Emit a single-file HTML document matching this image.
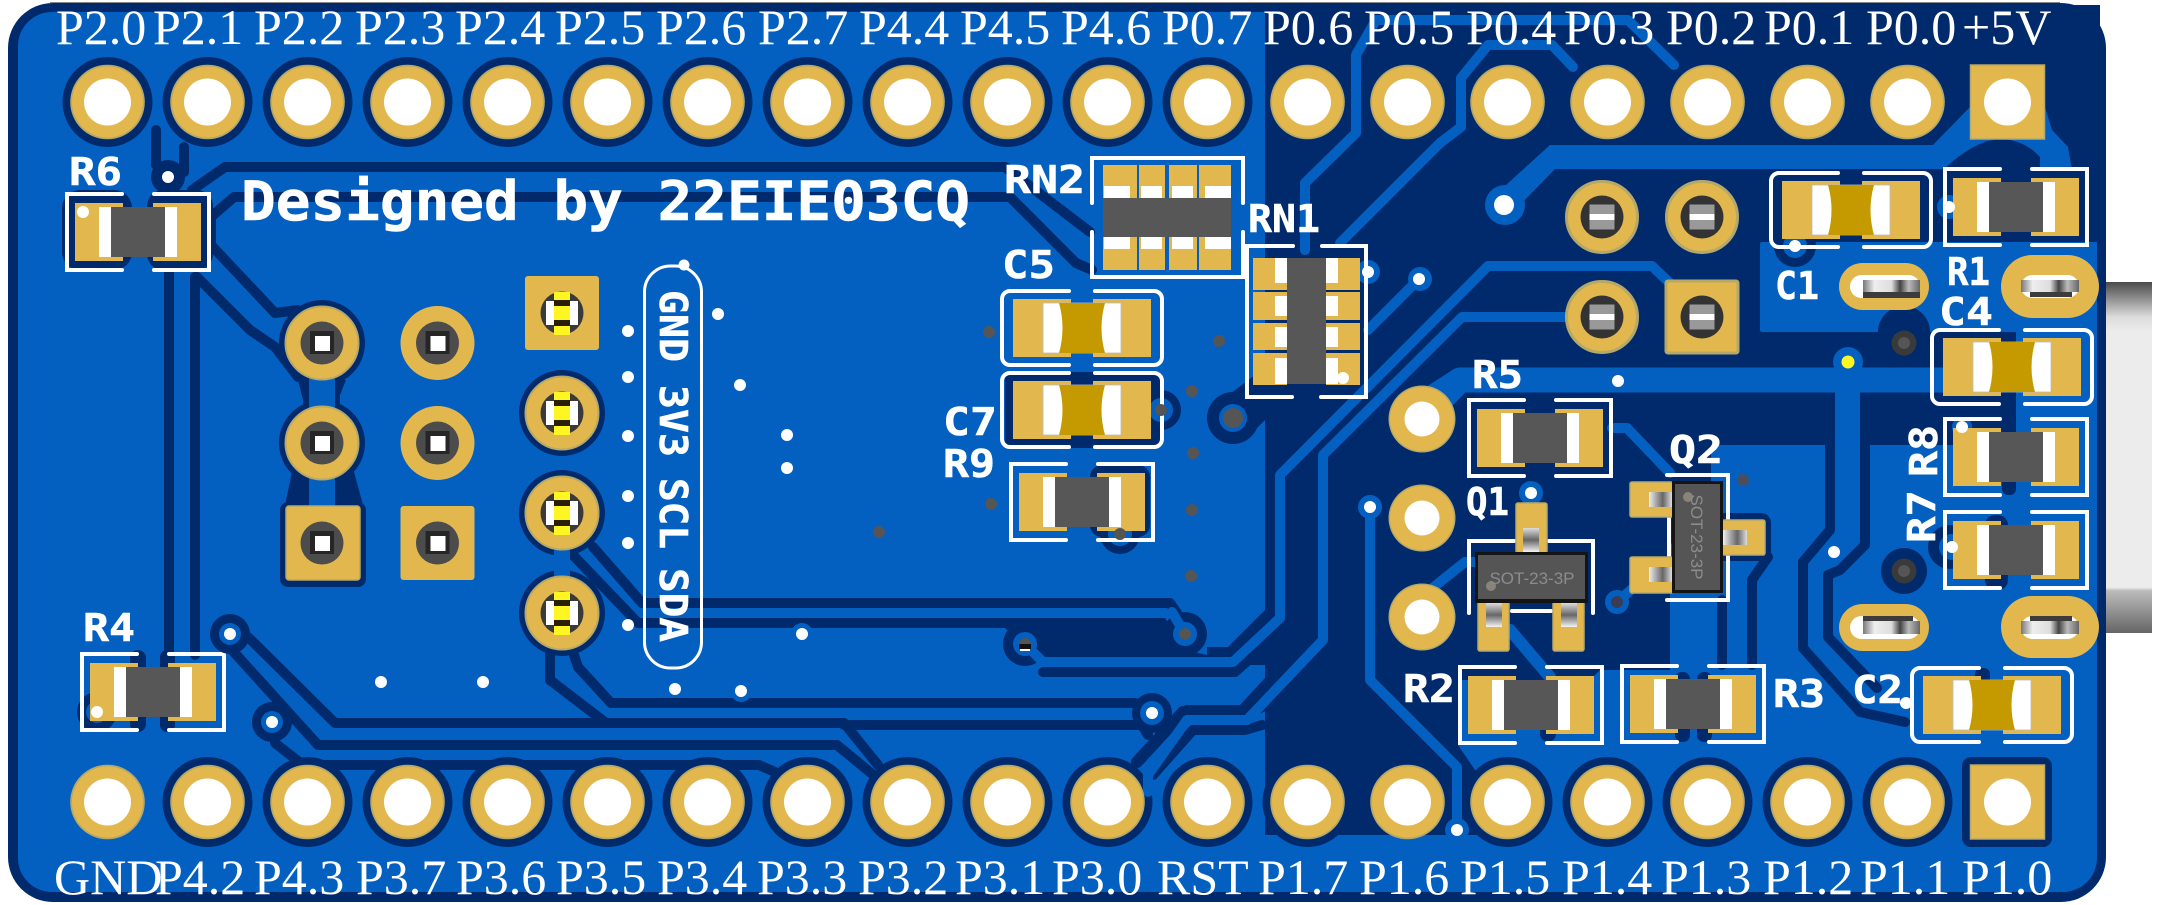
<!DOCTYPE html>
<html><head><meta charset="utf-8"><style>
html,body{margin:0;padding:0;background:#fff}
svg{display:block}
.t{font:50px "Liberation Serif",serif;fill:#fff}
.s{font:700 38px "DejaVu Sans Mono","Liberation Mono",monospace;fill:#fff;stroke:#fff;stroke-width:.6}
.m{font:17px "Liberation Sans",sans-serif;fill:#8c8c8c;text-anchor:middle}
.d{fill:none;stroke:#012a6c;stroke-width:10;stroke-linejoin:round;stroke-linecap:round}
.b{fill:none;stroke:#0360c0;stroke-width:10;stroke-linejoin:round;stroke-linecap:round}
</style></head><body>
<svg width="2160" height="905" viewBox="0 0 2160 905" xmlns="http://www.w3.org/2000/svg">
<defs>
<linearGradient id="usb" x1="0" y1="0" x2="0" y2="1"><stop offset="0" stop-color="#4a4a4a"/><stop offset=".1" stop-color="#dcdcdc"/><stop offset=".14" stop-color="#ececec"/><stop offset=".87" stop-color="#ececec"/><stop offset=".88" stop-color="#bbb"/><stop offset="1" stop-color="#666"/></linearGradient>
<linearGradient id="met" x1="0" y1="0" x2="1" y2="0"><stop offset="0" stop-color="#777"/><stop offset=".2" stop-color="#eee"/><stop offset=".5" stop-color="#ddd"/><stop offset=".65" stop-color="#444"/><stop offset=".8" stop-color="#bbb"/><stop offset="1" stop-color="#666"/></linearGradient>
<linearGradient id="pin" x1="0" y1="0" x2="0" y2="1"><stop offset="0" stop-color="#ddd"/><stop offset=".5" stop-color="#666"/><stop offset="1" stop-color="#f4f4f4"/></linearGradient>
<linearGradient id="pinh" x1="0" y1="0" x2="1" y2="0"><stop offset="0" stop-color="#eee"/><stop offset=".6" stop-color="#666"/><stop offset="1" stop-color="#ddd"/></linearGradient>
<g id="p"><circle r="37.3" fill="#b5a868"/><circle r="35.5" fill="#e2b84e"/><circle r="23.5" fill="#fff"/></g>
<g id="ps"><rect x="-37" y="-37" width="74" height="74" fill="#e2b84e" stroke="#b5a868" stroke-width="1.5"/><circle r="23.5" fill="#fff"/></g>
<g id="sp"><circle r="33.5" fill="#b5a868"/><circle r="32" fill="#e2b84e"/><circle r="17.5" fill="#fff"/></g>
<g id="h1"><circle r="21.5" fill="#4c4c4c"/><rect x="-12" y="-12" width="24" height="23" fill="#262626"/><rect x="-7" y="-7" width="15" height="15" fill="#fff"/></g>
<g id="h3"><circle r="21.5" fill="#3a3a3a"/><rect x="-16" y="-12" width="32" height="24" fill="#fff"/><rect x="-8" y="-21" width="16" height="43" fill="#fdf623"/><rect x="-8" y="-13" width="16" height="6" fill="#2a2000"/><rect x="-8" y="7" width="16" height="6" fill="#2a2000"/></g>
<g id="h4"><circle r="21.5" fill="#333"/><rect x="-12.5" y="-12.5" width="25" height="25" fill="#999"/><rect x="-12.5" y="-3" width="25" height="6" fill="#fff"/></g>
<g id="r"><path d="M-16,-38 H-71 V38 H-16 M16,-38 H71 V38 H16" fill="none" stroke="#fff" stroke-width="4" stroke-linecap="round"/><rect x="-63" y="-29" width="48" height="58" fill="#e2b84e"/><rect x="15" y="-29" width="48" height="58" fill="#e2b84e"/><rect x="-39" y="-25" width="78" height="50" fill="#fff"/><rect x="-27" y="-25" width="54" height="50" fill="#575757"/></g>
<g id="c"><path d="M-13,-37 H-72 a8,8 0 0 0 -8,8 V29 a8,8 0 0 0 8,8 H-13 M13,-37 H72 a8,8 0 0 1 8,8 V29 a8,8 0 0 1 -8,8 H13" fill="none" stroke="#fff" stroke-width="4" stroke-linecap="round"/><rect x="-69" y="-29" width="58" height="58" fill="#e2b84e"/><rect x="11" y="-29" width="58" height="58" fill="#e2b84e"/><rect x="-39" y="-25" width="78" height="50" fill="#fff" stroke="#bbb" stroke-width=".8"/><path d="M-23,-25 Q-16,0 -23,25 H23 Q16,0 23,-25 Z" fill="#c49a00"/></g>
<g id="w"><circle r="6" fill="#fff"/></g>
<g id="g"><circle r="6" fill="#555"/></g>
<g id="rv"><circle r="11" fill="#0360c0"/><circle r="6" fill="#fff"/></g>
<g id="dv"><circle r="20" fill="#012a6c"/><circle r="11" fill="#0360c0"/><circle r="6" fill="#fff"/></g>
<g id="mh"><circle r="23" fill="#012a6c"/><circle r="12.5" fill="#3a3a3a"/><circle r="6" fill="#555"/></g>
</defs>

<rect x="2106" y="282" width="46" height="351" fill="url(#usb)"/>
<rect x="50" y="2" width="2010" height="1" fill="#888"/>
<rect x="8" y="3" width="2098" height="899" rx="45" fill="#012a6c"/>
<rect x="18" y="12" width="2079" height="880" rx="34" fill="#0360c0"/>

<!-- right dark regions -->
<path d="M1265,5 H2100 V445 H1265 Z" fill="#012a6c"/>
<path d="M1265,445 H1711 V505 L1670,545 V670 H1600 L1590,680 H1458 V745 L1475,770 L1490,835 H1265 Z" fill="#012a6c"/>
<path d="M1005,618 H1165 L1185,650 L1207,655 V647 H1228 L1265,610 V665 H1235 L1040,665 L1025,650 L1005,628 Z" fill="#012a6c"/>
<path d="M1265,678 L1240,705 H1185 L1178,716 H1255 L1290,700 Z" fill="#012a6c"/>
<!-- blue pours on the right -->
<path d="M1762,242 H2097 V445 H2016 V332 H1930 A24,24 0 0 0 1878,332 H1762 Q1760,332 1760,330 V244 Q1760,242 1762,242 Z" fill="#0360c0"/>
<path d="M1835,385 H1860 V445 H1835 Z" fill="#0360c0"/>
<path d="M1550,145 H1933 L1970,107 H2045 L2052,130 L2068,147 L2072,170 H2040 V157 Q2025,140 2000,139 Q1975,140 1944,169 H1555 L1520,205 L1495,195 Z" fill="#0360c0"/>
<circle cx="1505" cy="205" r="20" fill="#0360c0"/>
<path d="M1432,398 L1460,380 H1945" fill="none" stroke="#0360c0" stroke-width="25" stroke-linejoin="round"/>
<circle cx="1848" cy="362" r="15" fill="#0360c0"/>

<!-- dark gaps, left region -->
<g class="d">
<path d="M192,190 L225,167 H1005 L1090,232"/>
<path d="M298,310 L275,313 L211,245 V217 L234,197 H1010 L1076,263 L1092,270"/>
<path d="M197,277 L250,330 L275,347 L298,377"/>
<path d="M156,130 V165 M184,147 V172"/>
<path d="M169,270 V655 M195,277 V655"/>
<path d="M593,547 L642,603 H1170 L1185,625"/>
<path d="M570,552 L638,623 H1005"/>
<path d="M248,637 L335,723 H844 L878,765"/>
<path d="M844,725 H1142 L1148,735"/>
<path d="M232,650 L318,745 H837 L871,773"/>
<path d="M275,743 L303,765 H759 L775,772"/>
<path d="M550,655 V680 L606,723"/>
<path d="M574,655 L578,667 L611,703 H1135"/>
<path d="M1043,672 H1235 L1262,648"/>
<path d="M1153,775 L1193,730 H1245 L1262,725"/>
<path d="M1137,762 L1183,712" stroke-width="12"/>
<path d="M1830,445 V530 L1803,562 V648 L1860,712 L1905,722"/>
<path d="M1865,445 V545 L1840,570 L1828,575 V637 L1877,688"/>
<path d="M1722,600 V665 M1752,665 V580 L1768,557"/>
</g>
<circle cx="168" cy="177" r="17" fill="#012a6c"/>
<rect x="62" y="190" width="70" height="80" rx="18" fill="#012a6c"/>
<rect x="147" y="190" width="66" height="80" rx="16" fill="#012a6c"/>
<rect x="130" y="650" width="16" height="82" rx="8" fill="#012a6c"/>
<rect x="160" y="650" width="15" height="82" rx="7" fill="#012a6c"/>
<circle cx="97" cy="712" r="20" fill="#012a6c"/><circle cx="97" cy="712" r="11" fill="#0360c0"/>
<rect x="1005" y="372" width="155" height="76" rx="8" fill="#012a6c"/>
<rect x="1090" y="465" width="60" height="72" rx="12" fill="#012a6c"/>
<rect x="1540" y="680" width="16" height="62" rx="8" fill="#012a6c"/>
<rect x="1675" y="672" width="15" height="70" rx="7" fill="#012a6c"/>
<rect x="1697" y="672" width="15" height="70" rx="7" fill="#012a6c"/>
<rect x="1715" y="513" width="56" height="48" rx="10" fill="#012a6c"/>
<rect x="1985" y="515" width="23" height="75" rx="10" fill="#012a6c"/>
<rect x="2002" y="420" width="14" height="75" rx="6" fill="#012a6c"/>
<rect x="1975" y="668" width="15" height="22" rx="6" fill="#012a6c"/>
<circle cx="1950" cy="547" r="22" fill="#012a6c"/><circle cx="1952" cy="547" r="13" fill="#0360c0"/>
<circle cx="1949" cy="207" r="12" fill="#0360c0"/>
<circle cx="1962" cy="427" r="10" fill="#0360c0"/>

<!-- pad halos -->
<g fill="#012a6c">
<circle cx="107.500" cy="102" r="45"/><circle cx="207.500" cy="102" r="45"/><circle cx="307.500" cy="102" r="45"/><circle cx="407.500" cy="102" r="45"/><circle cx="507.500" cy="102" r="45"/><circle cx="607.500" cy="102" r="45"/><circle cx="707.500" cy="102" r="45"/><circle cx="807.500" cy="102" r="45"/><circle cx="907.500" cy="102" r="45"/><circle cx="1007.500" cy="102" r="45"/><circle cx="1107.500" cy="102" r="45"/><circle cx="1207.500" cy="102" r="45"/>
<circle cx="207.500" cy="802" r="45"/><circle cx="307.500" cy="802" r="45"/><circle cx="407.500" cy="802" r="45"/><circle cx="507.500" cy="802" r="45"/><circle cx="607.500" cy="802" r="45"/><circle cx="707.500" cy="802" r="45"/><circle cx="807.500" cy="802" r="45"/><circle cx="907.500" cy="802" r="45"/><circle cx="1007.500" cy="802" r="45"/><circle cx="1107.500" cy="802" r="45"/><circle cx="1207.500" cy="802" r="45"/><circle cx="1307.500" cy="802" r="45"/>
<circle cx="1507.500" cy="802" r="45"/><circle cx="1607.500" cy="802" r="45"/><circle cx="1707.500" cy="802" r="45"/><circle cx="1807.500" cy="802" r="45"/><circle cx="1907.500" cy="802" r="45"/>
<rect x="1962" y="757" width="90" height="90" rx="9"/>
<circle cx="322" cy="343" r="43"/><circle cx="322" cy="443" r="43"/>
<rect x="280" y="502" width="86" height="85" rx="8"/>
<path d="M298,380 L303,400 V420 L285,505 H363 L340,420 V395 L346,380 Z"/>
<circle cx="562" cy="413" r="43"/><circle cx="562" cy="513" r="43"/><circle cx="562" cy="613" r="43"/>
</g>
<path d="M322,370 V520" stroke="#0360c0" stroke-width="26" fill="none"/>
<path d="M562,540 V590" stroke="#0360c0" stroke-width="16" fill="none"/>

<!-- via halos -->
<circle cx="1185" cy="634" r="22" fill="#012a6c"/>
<circle cx="1025" cy="644" r="22" fill="#012a6c"/>
<circle cx="1152" cy="713" r="20" fill="#012a6c"/>
<circle cx="1120" cy="534" r="20" fill="#012a6c"/>
<circle cx="1161" cy="410" r="20" fill="#012a6c"/>
<circle cx="1795" cy="246" r="21" fill="#012a6c"/>
<circle cx="1233" cy="418" r="26" fill="#012a6c"/>
<path d="M1222,400 L1255,375 H1265 V420 L1255,430 Z" fill="#012a6c"/>

<!-- blue traces in dark -->
<g class="b">
<path d="M1440,20 H1628 L1674,65"/>
<path d="M1440,20 H1376 L1356,55 V133 L1305,183 V250"/>
<path d="M1340,243 L1440,143 L1461,127 V78 L1488,45 H1552 L1573,67"/>
<path d="M1419,279 L1368,330"/>
<path d="M1675,288 L1652,266 H1488 L1280,475 V618 L1233,662 H1043 L1025,644"/>
<path d="M1602,317 H1462 L1323,455 V640 L1247,720 H1187 L1148,775 V792"/>
<path d="M1370,507 V680 L1457,767 V830"/>
<path d="M1612,428 H1627 L1670,473"/>
<path d="M1430,590 L1465,562 H1480"/>
<path d="M1510,630 L1550,677" stroke-width="12"/>
<path d="M1617,602 L1640,582 L1665,570"/>
<path d="M1172,612 L1185,634"/>
</g>
<path d="M1460,380 L1422,419" stroke="#0360c0" stroke-width="25" fill="none"/>
<circle cx="1420" cy="279" r="12" fill="#0360c0"/>
<circle cx="1368" cy="272" r="12" fill="#0360c0"/>
<circle cx="1370" cy="507" r="12" fill="#0360c0"/>
<circle cx="1531" cy="493" r="12" fill="#0360c0"/>
<circle cx="1617" cy="602" r="12" fill="#0360c0"/>
<circle cx="1457" cy="830" r="12" fill="#0360c0"/>
<circle cx="1233" cy="418" r="14" fill="#0360c0"/>
<circle cx="1185" cy="634" r="12" fill="#0360c0"/>
<circle cx="1152" cy="713" r="12" fill="#0360c0"/>
<circle cx="1025" cy="644" r="12" fill="#0360c0"/>
<circle cx="1120" cy="534" r="12" fill="#0360c0"/>
<circle cx="1161" cy="410" r="12" fill="#0360c0"/>
<circle cx="1795" cy="246" r="12" fill="#0360c0"/>

<!-- pads top -->
<use href="#p" x="107.500" y="102"/><use href="#p" x="207.500" y="102"/><use href="#p" x="307.500" y="102"/><use href="#p" x="407.500" y="102"/><use href="#p" x="507.500" y="102"/><use href="#p" x="607.500" y="102"/><use href="#p" x="707.500" y="102"/><use href="#p" x="807.500" y="102"/><use href="#p" x="907.500" y="102"/><use href="#p" x="1007.500" y="102"/><use href="#p" x="1107.500" y="102"/><use href="#p" x="1207.500" y="102"/><use href="#p" x="1307.500" y="102"/><use href="#p" x="1407.500" y="102"/><use href="#p" x="1507.500" y="102"/><use href="#p" x="1607.500" y="102"/><use href="#p" x="1707.500" y="102"/><use href="#p" x="1807.500" y="102"/><use href="#p" x="1907.500" y="102"/><use href="#ps" x="2007.500" y="102"/>
<!-- pads bottom -->
<use href="#p" x="107.500" y="802"/><use href="#p" x="207.500" y="802"/><use href="#p" x="307.500" y="802"/><use href="#p" x="407.500" y="802"/><use href="#p" x="507.500" y="802"/><use href="#p" x="607.500" y="802"/><use href="#p" x="707.500" y="802"/><use href="#p" x="807.500" y="802"/><use href="#p" x="907.500" y="802"/><use href="#p" x="1007.500" y="802"/><use href="#p" x="1107.500" y="802"/><use href="#p" x="1207.500" y="802"/><use href="#p" x="1307.500" y="802"/><use href="#p" x="1407.500" y="802"/><use href="#p" x="1507.500" y="802"/><use href="#p" x="1607.500" y="802"/><use href="#p" x="1707.500" y="802"/><use href="#p" x="1807.500" y="802"/><use href="#p" x="1907.500" y="802"/><use href="#ps" x="2007.500" y="802"/>

<!-- left headers -->
<g fill="#e2b84e">
<circle cx="322" cy="343" r="36.500" stroke="#b5a868" stroke-width="2"/><circle cx="322" cy="443" r="36.500" stroke="#b5a868" stroke-width="2"/><rect x="286" y="506" width="74" height="74" rx="3" stroke="#b5a868" stroke-width="1.500"/>
<circle cx="437.500" cy="343" r="37"/><circle cx="437.500" cy="443" r="37"/><rect x="400.500" y="506" width="74" height="74" rx="3"/>
<rect x="525" y="276" width="74" height="74" rx="3"/>
<circle cx="562" cy="413" r="36.500" stroke="#b5a868" stroke-width="2"/><circle cx="562" cy="513" r="36.500" stroke="#b5a868" stroke-width="2"/><circle cx="562" cy="613" r="36.500" stroke="#b5a868" stroke-width="2"/>
</g>
<use href="#h1" x="322" y="343"/><use href="#h1" x="322" y="443"/><use href="#h1" x="322" y="543"/><use href="#h1" x="437.500" y="343"/><use href="#h1" x="437.500" y="443"/><use href="#h1" x="437.500" y="543"/>
<use href="#h3" x="562" y="313"/><use href="#h3" x="562" y="413"/><use href="#h3" x="562" y="513"/><use href="#h3" x="562" y="613"/>
<!-- right header -->
<g fill="#e2b84e" stroke="#b5a868" stroke-width="3"><circle cx="1602" cy="217" r="35.500"/><circle cx="1702" cy="217" r="35.500"/><circle cx="1602" cy="317" r="35.500"/><rect x="1666" y="281" width="72" height="72" rx="2"/></g>
<use href="#h4" x="1602" y="217"/><use href="#h4" x="1702" y="217"/><use href="#h4" x="1602" y="317"/><use href="#h4" x="1702" y="317"/>
<use href="#sp" x="1422" y="419"/><use href="#sp" x="1422" y="518"/><use href="#sp" x="1422" y="617"/>

<!-- USB slots -->
<g fill="#e2b84e">
<rect x="1839" y="263" width="90" height="47" rx="23.500"/><rect x="2001" y="255" width="98" height="63" rx="31.500"/>
<rect x="1839" y="604" width="90" height="47" rx="23.500"/><rect x="2001" y="596" width="98" height="62" rx="31"/>
</g>
<g fill="#fff">
<rect x="1850" y="275" width="70" height="23" rx="11.500"/><rect x="2021" y="275" width="58" height="23" rx="11.500"/>
<rect x="1850" y="616" width="70" height="23" rx="11.500"/><rect x="2021" y="616" width="58" height="23" rx="11.500"/>
</g>
<rect x="1863" y="280" width="57" height="12" fill="url(#met)"/><rect x="1863" y="292" width="57" height="6" fill="#3c3c3c"/>
<rect x="2021" y="280" width="58" height="12" fill="url(#met)"/><rect x="2030" y="292" width="42" height="5" fill="#3c3c3c"/>
<rect x="1863" y="616" width="50" height="5" fill="#3c3c3c"/><rect x="1863" y="621" width="57" height="13" fill="url(#met)"/>
<rect x="2030" y="616" width="42" height="5" fill="#3c3c3c"/><rect x="2021" y="621" width="58" height="13" fill="url(#met)"/>

<!-- resistors and caps -->
<use href="#r" x="138" y="232"/><use href="#r" x="153" y="692"/><use href="#r" x="1082" y="502"/><use href="#r" x="1540" y="438"/>
<use href="#r" x="2016" y="207"/><use href="#r" x="2016" y="457"/><use href="#r" x="2016" y="550"/><use href="#r" x="1531" y="705"/><use href="#r" x="1693" y="704"/>
<use href="#c" x="1082" y="328"/><use href="#c" x="1082" y="410"/><use href="#c" x="1851" y="210"/><use href="#c" x="2012" y="367"/><use href="#c" x="1992" y="705"/>

<!-- RN2 -->
<path d="M1092,203 V158 H1243 V203 M1092,232 V277 H1243 V232" fill="none" stroke="#fff" stroke-width="4" stroke-linecap="round"/>
<g fill="#e2b84e"><rect x="1103" y="165" width="34" height="33"/><rect x="1139" y="165" width="26" height="33"/><rect x="1169" y="165" width="28" height="33"/><rect x="1199" y="165" width="32" height="33"/><rect x="1103" y="237" width="34" height="33"/><rect x="1139" y="237" width="26" height="33"/><rect x="1169" y="237" width="28" height="33"/><rect x="1199" y="237" width="32" height="33"/></g>
<g fill="#fff"><rect x="1104" y="186" width="26" height="12"/><rect x="1141" y="186" width="21" height="12"/><rect x="1172" y="186" width="21" height="12"/><rect x="1205" y="186" width="26" height="12"/><rect x="1104" y="237" width="26" height="12"/><rect x="1141" y="237" width="21" height="12"/><rect x="1172" y="237" width="21" height="12"/><rect x="1205" y="237" width="26" height="12"/></g>
<rect x="1103" y="198" width="128" height="39" fill="#575757"/>
<!-- RN1 -->
<path d="M1293,246 H1247 V397 H1292 M1322,246 H1366 V397 H1321" fill="none" stroke="#fff" stroke-width="4" stroke-linecap="round"/>
<g fill="#e2b84e"><rect x="1253" y="258" width="34" height="32"/><rect x="1253" y="292" width="34" height="28"/><rect x="1253" y="323" width="34" height="27"/><rect x="1253" y="353" width="34" height="32"/><rect x="1326" y="258" width="34" height="32"/><rect x="1326" y="292" width="34" height="28"/><rect x="1326" y="323" width="34" height="27"/><rect x="1326" y="353" width="34" height="32"/></g>
<g fill="#fff"><rect x="1275" y="258" width="12" height="25"/><rect x="1275" y="296" width="12" height="20"/><rect x="1275" y="327" width="12" height="20"/><rect x="1275" y="358" width="12" height="26"/><rect x="1326" y="258" width="12" height="25"/><rect x="1326" y="296" width="12" height="20"/><rect x="1326" y="327" width="12" height="20"/><rect x="1326" y="358" width="12" height="26"/></g>
<rect x="1287" y="258" width="39" height="126" fill="#575757"/>

<!-- Q1 -->
<path d="M1514,541 H1469 V613 M1549,541 H1593 V613 M1512,611 H1551" fill="none" stroke="#fff" stroke-width="4" stroke-linecap="round"/>
<g fill="#e2b84e" stroke="#b5a868" stroke-width="1.500"><rect x="1516" y="503" width="31" height="50" rx="2"/><rect x="1478" y="602" width="31" height="49" rx="2"/><rect x="1553" y="602" width="31" height="49" rx="2"/></g>
<rect x="1523" y="528" width="16" height="24" fill="url(#pin)"/><rect x="1486" y="603" width="16" height="24" fill="url(#pin)"/><rect x="1561" y="603" width="16" height="24" fill="url(#pin)"/>
<rect x="1475" y="552" width="113" height="51" fill="#141414"/><rect x="1478" y="555" width="107" height="44" fill="#555"/>
<circle cx="1491" cy="586" r="5" fill="#8a8378"/>
<text class="m" x="1532" y="584">SOT-23-3P</text>
<!-- Q2 -->
<path d="M1669,517 V557 M1667,475 H1728 V520 M1728,555 V600 H1667" fill="none" stroke="#fff" stroke-width="4" stroke-linecap="round"/>
<g fill="#e2b84e" stroke="#b5a868" stroke-width="1.500"><rect x="1630" y="482" width="43" height="35" rx="2"/><rect x="1630" y="557" width="43" height="36" rx="2"/><rect x="1722" y="520" width="43" height="35" rx="2"/></g>
<rect x="1649" y="492" width="23" height="15" fill="url(#pinh)"/><rect x="1649" y="567" width="23" height="15" fill="url(#pinh)"/><rect x="1723" y="530" width="24" height="15" fill="url(#pinh)"/>
<rect x="1672" y="481" width="51" height="112" fill="#141414"/><rect x="1675" y="484" width="45" height="106" fill="#555"/>
<circle cx="1688" cy="497" r="5" fill="#8a8378"/>
<text class="m" transform="translate(1691,537) rotate(90)">SOT-23-3P</text>

<!-- vias -->
<use href="#w" x="628" y="331"/><use href="#w" x="628" y="377"/><use href="#w" x="628" y="436"/><use href="#w" x="628" y="496"/><use href="#w" x="628" y="543"/><use href="#w" x="628" y="625"/>
<use href="#w" x="718" y="314"/><use href="#w" x="740" y="385"/><use href="#w" x="787" y="435"/><use href="#w" x="787" y="468"/><use href="#rv" x="802" y="634"/>
<use href="#w" x="381" y="682"/><use href="#w" x="483" y="682"/><use href="#w" x="675" y="689"/><use href="#rv" x="741" y="691"/>
<use href="#g" x="989" y="332"/><use href="#g" x="991" y="504"/><use href="#g" x="879" y="532"/><use href="#g" x="1193" y="453"/><use href="#g" x="1192" y="510"/><use href="#g" x="1191" y="576"/><use href="#g" x="1120" y="534"/><use href="#g" x="1185" y="634"/><use href="#g" x="1219" y="341"/><use href="#g" x="1192" y="391"/><use href="#g" x="1161" y="410"/>
<circle cx="1233" cy="418" r="10" fill="#555"/>
<circle cx="1025" cy="644" r="6" fill="#555"/><rect x="1019" y="644" width="12" height="5" fill="#111"/><rect x="1020" y="649" width="10" height="2" fill="#fff"/>
<use href="#w" x="168" y="177"/><use href="#w" x="83" y="212"/><use href="#w" x="97" y="712"/>
<use href="#dv" x="230" y="634"/><use href="#dv" x="272" y="722"/>
<use href="#w" x="1152" y="713"/><use href="#w" x="1343" y="378"/><use href="#w" x="1368" y="272"/><use href="#w" x="1419" y="279"/>
<use href="#w" x="1370" y="507"/><use href="#w" x="1531" y="493"/><use href="#w" x="1457" y="830"/><use href="#w" x="1618" y="381"/><use href="#w" x="1834" y="552"/>
<circle cx="1617" cy="602" r="6" fill="#3a3d55"/>
<circle cx="1743" cy="480" r="6" fill="#4a4d60"/>
<circle cx="1504" cy="205" r="10" fill="#fff"/>
<circle cx="1848" cy="362" r="6.500" fill="#fdf623"/>
<use href="#w" x="1962" y="427"/><use href="#w" x="1952" y="547"/><use href="#w" x="1949" y="207"/><use href="#w" x="1795" y="246"/><use href="#w" x="1906" y="703"/>
<use href="#mh" x="1904" y="343"/><use href="#mh" x="1904" y="571"/>

<!-- pill and labels -->
<rect x="644.500" y="266" width="57" height="402" rx="26" fill="none" stroke="#fff" stroke-width="3"/>
<circle cx="684" cy="265" r="5.500" fill="#fff"/>
<text class="s" transform="translate(660,290) rotate(90)" textLength="72" lengthAdjust="spacingAndGlyphs">GND</text>
<text class="s" transform="translate(660,385) rotate(90)" textLength="72" lengthAdjust="spacingAndGlyphs">3V3</text>
<text class="s" transform="translate(660,478) rotate(90)" textLength="71" lengthAdjust="spacingAndGlyphs">SCL</text>
<text class="s" transform="translate(660,568) rotate(90)" textLength="74" lengthAdjust="spacingAndGlyphs">SDA</text>
<text class="s" x="241" y="220" style="font-size:54px" textLength="729" lengthAdjust="spacingAndGlyphs">Designed by 22EIE03CQ</text>
<text class="s" x="69" y="185" textLength="53" lengthAdjust="spacingAndGlyphs">R6</text>
<text class="s" x="83" y="641" textLength="52" lengthAdjust="spacingAndGlyphs">R4</text>
<text class="s" x="1004" y="193" textLength="81" lengthAdjust="spacingAndGlyphs">RN2</text>
<text class="s" x="1248" y="232" textLength="72" lengthAdjust="spacingAndGlyphs">RN1</text>
<text class="s" x="1002" y="278" textLength="53" lengthAdjust="spacingAndGlyphs">C5</text>
<text class="s" x="943" y="435" textLength="54" lengthAdjust="spacingAndGlyphs">C7</text>
<text class="s" x="943" y="477" textLength="52" lengthAdjust="spacingAndGlyphs">R9</text>
<text class="s" x="1472" y="388" textLength="51" lengthAdjust="spacingAndGlyphs">R5</text>
<text class="s" x="1775" y="299" textLength="44" lengthAdjust="spacingAndGlyphs">C1</text>
<text class="s" x="1947" y="285" textLength="43" lengthAdjust="spacingAndGlyphs">R1</text>
<text class="s" x="1939" y="325" textLength="54" lengthAdjust="spacingAndGlyphs">C4</text>
<text class="s" x="1466" y="515" textLength="43" lengthAdjust="spacingAndGlyphs">Q1</text>
<text class="s" x="1669" y="463" textLength="54" lengthAdjust="spacingAndGlyphs">Q2</text>
<text class="s" x="1403" y="702" textLength="52" lengthAdjust="spacingAndGlyphs">R2</text>
<text class="s" x="1773" y="707" textLength="52" lengthAdjust="spacingAndGlyphs">R3</text>
<text class="s" x="1852" y="703" textLength="51" lengthAdjust="spacingAndGlyphs">C2</text>
<text class="s" transform="translate(1937,477) rotate(-90)" textLength="52" lengthAdjust="spacingAndGlyphs">R8</text>
<text class="s" transform="translate(1935,543) rotate(-90)" textLength="53" lengthAdjust="spacingAndGlyphs">R7</text>

<!-- top serif labels -->
<text class="t" x="56" y="44">P2.0</text><text class="t" x="153" y="44">P2.1</text><text class="t" x="254" y="44">P2.2</text><text class="t" x="355" y="44">P2.3</text><text class="t" x="455" y="44">P2.4</text><text class="t" x="555" y="44">P2.5</text><text class="t" x="656" y="44">P2.6</text><text class="t" x="758" y="44">P2.7</text><text class="t" x="859" y="44">P4.4</text><text class="t" x="960" y="44">P4.5</text><text class="t" x="1061" y="44">P4.6</text><text class="t" x="1162" y="44">P0.7</text><text class="t" x="1263" y="44">P0.6</text><text class="t" x="1364" y="44">P0.5</text><text class="t" x="1466" y="44">P0.4</text><text class="t" x="1564" y="44">P0.3</text><text class="t" x="1666" y="44">P0.2</text><text class="t" x="1764" y="44">P0.1</text><text class="t" x="1866" y="44">P0.0</text><text class="t" x="1962" y="44">+5V</text>
<!-- bottom serif labels -->
<text class="t" x="54" y="894">GND</text><text class="t" x="155" y="894">P4.2</text><text class="t" x="254" y="894">P4.3</text><text class="t" x="356" y="894">P3.7</text><text class="t" x="456" y="894">P3.6</text><text class="t" x="556" y="894">P3.5</text><text class="t" x="657" y="894">P3.4</text><text class="t" x="757" y="894">P3.3</text><text class="t" x="858" y="894">P3.2</text><text class="t" x="955" y="894">P3.1</text><text class="t" x="1052" y="894">P3.0</text><text class="t" x="1157" y="894">RST</text><text class="t" x="1258" y="894">P1.7</text><text class="t" x="1359" y="894">P1.6</text><text class="t" x="1460" y="894">P1.5</text><text class="t" x="1562" y="894">P1.4</text><text class="t" x="1661" y="894">P1.3</text><text class="t" x="1763" y="894">P1.2</text><text class="t" x="1860" y="894">P1.1</text><text class="t" x="1962" y="894">P1.0</text>
</svg>
</body></html>
